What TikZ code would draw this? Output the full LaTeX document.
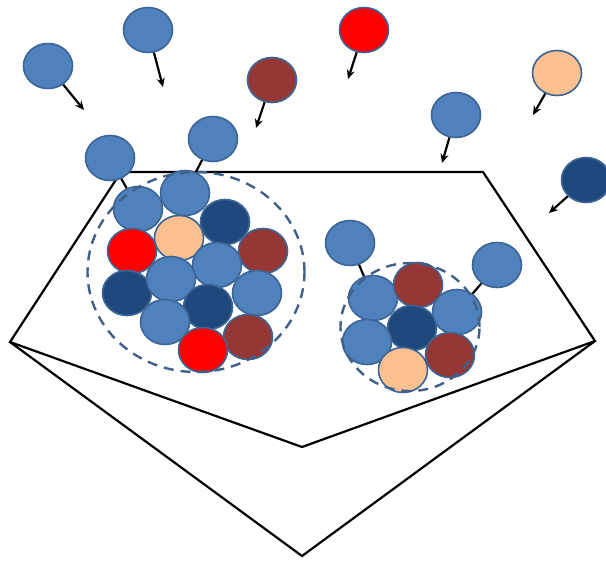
\documentclass[tikz,border=0pt]{standalone}
\usetikzlibrary{shapes.geometric,arrows.meta}
\definecolor{cblue}{HTML}{4F81BD}
\definecolor{cnavy}{HTML}{1F497D}
\definecolor{cbrown}{HTML}{953735}
\definecolor{cred}{HTML}{FF0000}
\definecolor{cpeach}{HTML}{FAC090}
\definecolor{cedge}{HTML}{3D6596}
\definecolor{cdash}{HTML}{40608A}
\tikzset{
  ball/.style={ellipse, draw=cedge, line width=1.6pt, minimum width=49pt, minimum height=45pt, inner sep=0pt},
  bl/.style={ball, fill=cblue},
  nv/.style={ball, fill=cnavy},
  br/.style={ball, fill=cbrown},
  rd/.style={ball, fill=cred},
  pc/.style={ball, fill=cpeach},
  arr/.style={line width=2.2pt, -{Stealth[length=9pt,width=8pt]}},
  link/.style={line width=2.2pt},
  frame/.style={line width=2.2pt, line join=miter},
  cluster/.style={draw=cdash, line width=2.4pt, dash pattern=on 10pt off 7pt}
}
\begin{document}
\begin{tikzpicture}[x=1pt,y=-1pt]
\useasboundingbox (0,0) rectangle (606,562);
% frame
\coordinate (tl) at (121,172);
\coordinate (tr) at (483,172);
\coordinate (rv) at (595,341);
\coordinate (bi) at (302,447);
\coordinate (lv) at (10,342);
\coordinate (ba) at (302,556);
\draw[frame] (tl) -- (tr) -- (rv) -- (bi) -- (lv) -- cycle;
\draw[frame] (lv) -- (ba) -- (rv);
% cluster 1
\node[bl] (p1) at (138,209) {};
\node[bl] (p2) at (185,193) {};
\node[nv] (p3) at (225,222) {};
\node[pc] (p4) at (179,238) {};
\node[rd] (p5) at (132,251) {};
\node[br] (p6) at (263,251) {};
\node[bl] (p7) at (217,265) {};
\node[nv] (p9) at (127,293) {};
\node[bl] (p8) at (171,279) {};
\node[bl] (p10) at (257,293) {};
\node[nv] (p11) at (208,307) {};
\node[bl] (p12) at (165,322) {};
\node[br] (p13) at (248,337) {};
\node[rd] (p14) at (203,350) {};
\node[cluster, ellipse, minimum width=217pt, minimum height=200pt] (k1) at (196,272) {};
% cluster 2
\node[bl] (q3) at (373,298) {};
\node[br] (q4) at (418,285) {};
\node[bl] (q5) at (457,312) {};
\node[nv] (q6) at (412,328) {};
\node[bl] (q7) at (367,342) {};
\node[br] (q8) at (450,355) {};
\node[pc] (q9) at (403,370) {};
\node[cluster, ellipse, minimum width=139pt, minimum height=128pt] (k2) at (410,327) {};
% free balls
\node[bl] (f1) at (48,66) {};
\node[bl] (f2) at (148,30) {};
\node[br] (f3) at (272,80) {};
\node[bl] (f4) at (213,139) {};
\node[bl] (f5) at (110,158) {};
\node[rd] (f6) at (364,30) {};
\node[pc] (f7) at (557,73) {};
\node[bl] (f8) at (456,115) {};
\node[nv] (f9) at (586,180) {};
\node[bl] (q1) at (350,243) {};
\node[bl] (q2) at (497,265) {};
% arrow ends
\coordinate (e1) at (84,110);
\coordinate (e2) at (163,87);
\coordinate (e3) at (256,128);
\coordinate (e6) at (348,79);
\coordinate (e7) at (533,115);
\coordinate (e8) at (442,163);
\coordinate (e9) at (549,213);
\draw[arr] (f1) -- (e1);
\draw[arr] (f2) -- (e2);
\draw[arr] (f3) -- (e3);
\draw[arr] (f6) -- (e6);
\draw[arr] (f7) -- (e7);
\draw[arr] (f8) -- (e8);
\draw[arr] (f9) -- (e9);
% links
\draw[link] (f4) -- (p2);
\draw[link] (f5) -- (p1);
\draw[link] (q1) -- (q3);
\draw[link] (q2) -- (q5);
\end{tikzpicture}
\end{document}
